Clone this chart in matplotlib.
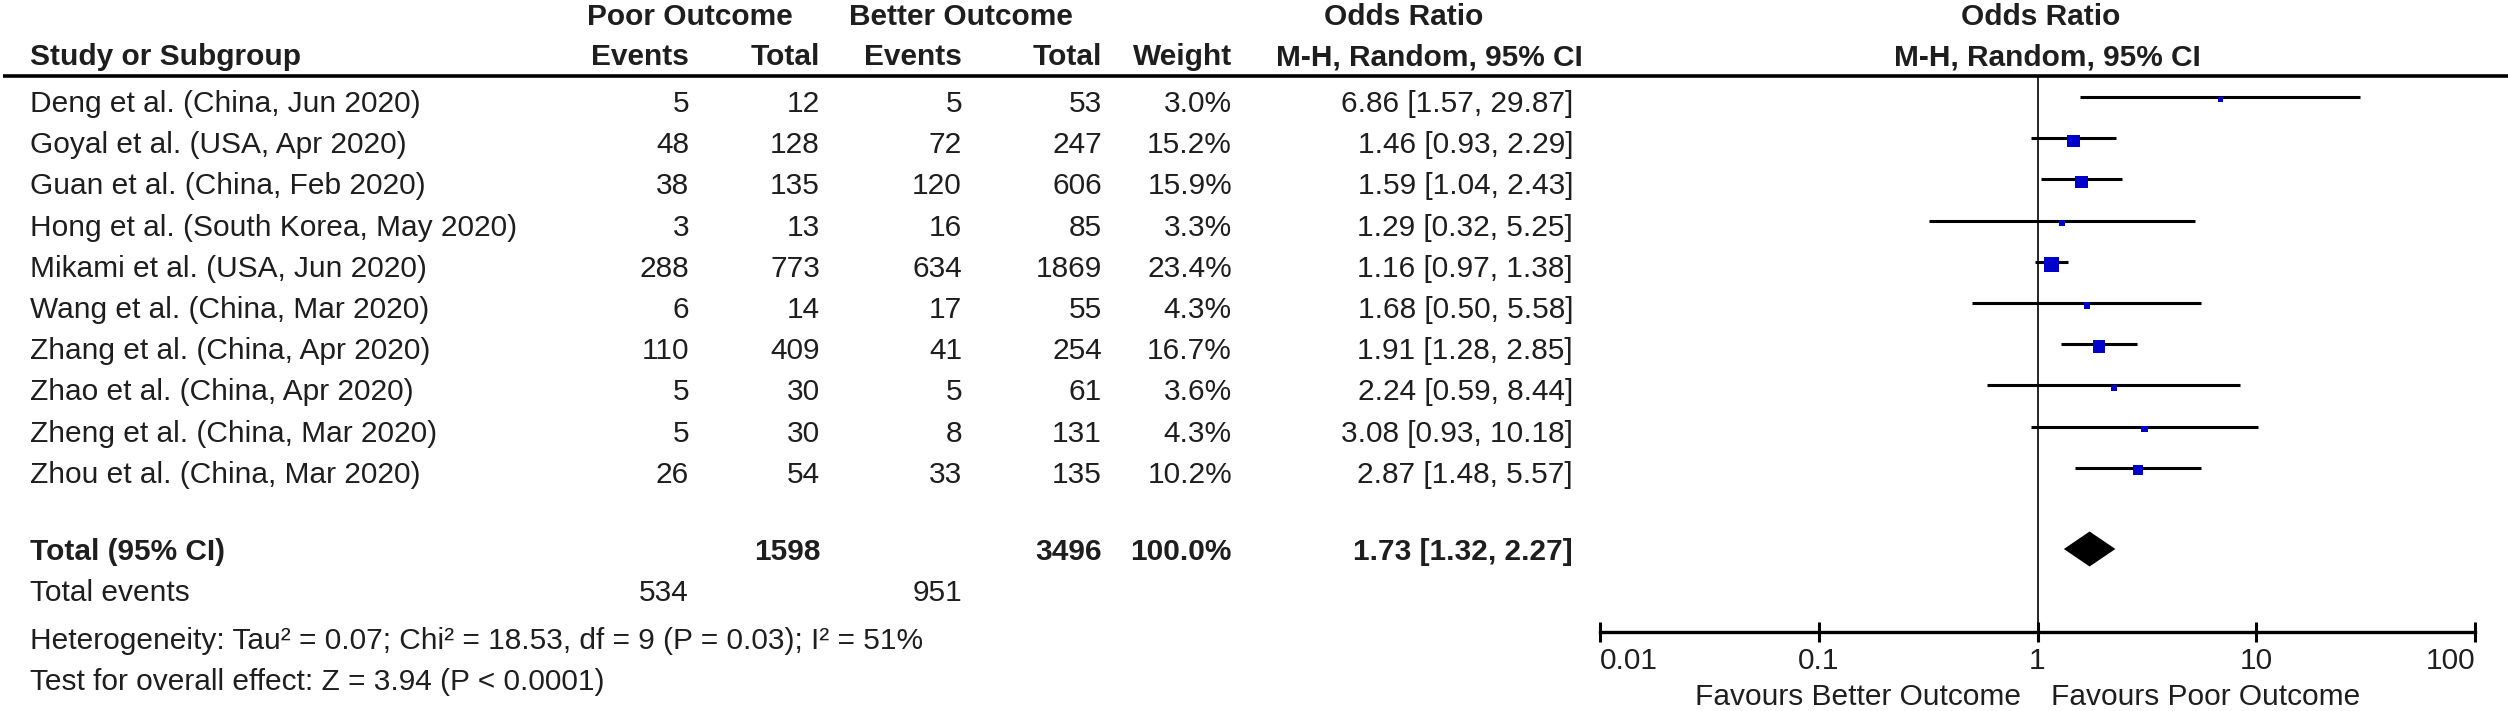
import matplotlib
matplotlib.use("Agg")
import matplotlib.pyplot as plt

plt.rcParams['font.family'] = ['Liberation Sans', 'DejaVu Sans']

# ---- data ----
studies = ["Deng et al. (China, Jun 2020)", "Goyal et al. (USA, Apr 2020)",
           "Guan et al. (China, Feb 2020)", "Hong et al. (South Korea, May 2020)",
           "Mikami et al. (USA, Jun 2020)", "Wang et al. (China, Mar 2020)",
           "Zhang et al. (China, Apr 2020)", "Zhao et al. (China, Apr 2020)",
           "Zheng et al. (China, Mar 2020)", "Zhou et al. (China, Mar 2020)"]
poor_events = [5, 48, 38, 3, 288, 6, 110, 5, 5, 26]
poor_total = [12, 128, 135, 13, 773, 14, 409, 30, 30, 54]
better_events = [5, 72, 120, 16, 634, 17, 41, 5, 8, 33]
better_total = [53, 247, 606, 85, 1869, 55, 254, 61, 131, 135]
weights = [3.0, 15.2, 15.9, 3.3, 23.4, 4.3, 16.7, 3.6, 4.3, 10.2]
or_est = [6.86, 1.46, 1.59, 1.29, 1.16, 1.68, 1.91, 2.24, 3.08, 2.87]
or_lo = [1.57, 0.93, 1.04, 0.32, 0.97, 0.50, 1.28, 0.59, 0.93, 1.48]
or_hi = [29.87, 2.29, 2.43, 5.25, 1.38, 5.58, 2.85, 8.44, 10.18, 5.57]

total_poor, total_better = 1598, 3496
total_weight = 100.0
events_poor, events_better = 534, 951
pooled = [1.73, 1.32, 2.27]   # estimate, lower, upper
hetero = "Heterogeneity: Tau² = 0.07; Chi² = 18.53, df = 9 (P = 0.03); I² = 51%"
overall = "Test for overall effect: Z = 3.94 (P < 0.0001)"
tick_vals = [0.01, 0.1, 1, 10, 100]
tick_labels = ["0.01", "0.1", "1", "10", "100"]

# ---- layout (pixels) ----
W, H = 2508, 711
FS = 21.5
TXT = '#1e1e1e'
row0, step = 104, 41.2
col_name = 30
col_pe, col_pt, col_be, col_bt, col_w, col_or = 689, 820, 962, 1102, 1232, 1573

fig = plt.figure(figsize=(W / 100, H / 100), dpi=100)
tab = fig.add_axes([0, 0, 1, 1])
tab.set_xlim(0, W)
tab.set_ylim(H, 0)
tab.axis('off')


def put(x, y, s, ha='right', bold=False):
    tab.text(x, y, s, ha=ha, va='center', fontsize=FS, color=TXT,
             fontweight='bold' if bold else 'normal')


# headers
put(690, 17, "Poor Outcome", 'center', True)
put(961, 17, "Better Outcome", 'center', True)
put(1404, 17, "Odds Ratio", 'center', True)
put(2041, 17, "Odds Ratio", 'center', True)
put(col_name, 57, "Study or Subgroup", 'left', True)
put(col_pe, 57, "Events", bold=True)
put(col_pt, 57, "Total", bold=True)
put(col_be, 57, "Events", bold=True)
put(col_bt, 57, "Total", bold=True)
put(col_w, 57, "Weight", bold=True)
put(1429, 57, "M-H, Random, 95% CI", 'center', True)
put(2047, 57, "M-H, Random, 95% CI", 'center', True)
tab.plot([3, W], [76, 76], color='black', lw=2.6, solid_capstyle='butt')

for i, name in enumerate(studies):
    y = row0 + step * i
    put(col_name, y, name, 'left')
    put(col_pe, y, str(poor_events[i]))
    put(col_pt, y, str(poor_total[i]))
    put(col_be, y, str(better_events[i]))
    put(col_bt, y, str(better_total[i]))
    put(col_w, y, f"{weights[i]:.1f}%")
    put(col_or, y, f"{or_est[i]:.2f} [{or_lo[i]:.2f}, {or_hi[i]:.2f}]")

y_tot = 552
put(col_name, y_tot, "Total (95% CI)", 'left', True)
put(col_pt, y_tot, str(total_poor), bold=True)
put(col_bt, y_tot, str(total_better), bold=True)
put(col_w, y_tot, f"{total_weight:.1f}%", bold=True)
put(col_or, y_tot, f"{pooled[0]:.2f} [{pooled[1]:.2f}, {pooled[2]:.2f}]", bold=True)
put(col_name, 593, "Total events", 'left')
put(col_pe, 593, str(events_poor))
put(col_be, 593, str(events_better))
put(col_name, 641, hetero, 'left')
put(col_name, 682, overall, 'left')
put(2021, 697, "Favours Better Outcome", 'right')
put(2051, 697, "Favours Poor Outcome", 'left')

# ---- forest plot ----
fx0, fx1, fy_top, fy_bot = 1600, 2475, 76, 632
line0 = 97
ax = fig.add_axes([fx0 / W, 1 - fy_bot / H, (fx1 - fx0) / W, (fy_bot - fy_top) / H])
ax.set_xscale('log')
ax.set_xlim(0.01, 100)
ax.set_ylim((fy_bot - line0) / step, (fy_top - line0) / step)
ax.patch.set_alpha(0)

rows = list(range(len(studies)))
ax.hlines(rows, or_lo, or_hi, color='black', lw=2.2)
ax.scatter(or_est, [r + 0.06 for r in rows], s=[5 * w for w in weights], marker='s',
           color='#0000cc', linewidths=0, zorder=3)
ax.axvline(1, color='black', lw=1.2)

y_d = (549 - line0) / step
hd = 17.5 / step
ax.fill([pooled[1], pooled[0], pooled[2], pooled[0]],
        [y_d, y_d - hd, y_d, y_d + hd], color='black', lw=0, zorder=3)

for side in ['left', 'right', 'top']:
    ax.spines[side].set_visible(False)
ax.spines['bottom'].set_linewidth(2.4)
ax.set_yticks([])
ax.set_xticks(tick_vals)
ax.set_xticklabels(tick_labels)
ax.minorticks_off()
ax.tick_params(axis='x', direction='inout', length=15, width=2.2,
               labelsize=FS, labelcolor=TXT, pad=3)
lbls = ax.get_xticklabels()
lbls[0].set_ha('left')
lbls[-1].set_ha('right')

fig.savefig("out.png", dpi=100)
